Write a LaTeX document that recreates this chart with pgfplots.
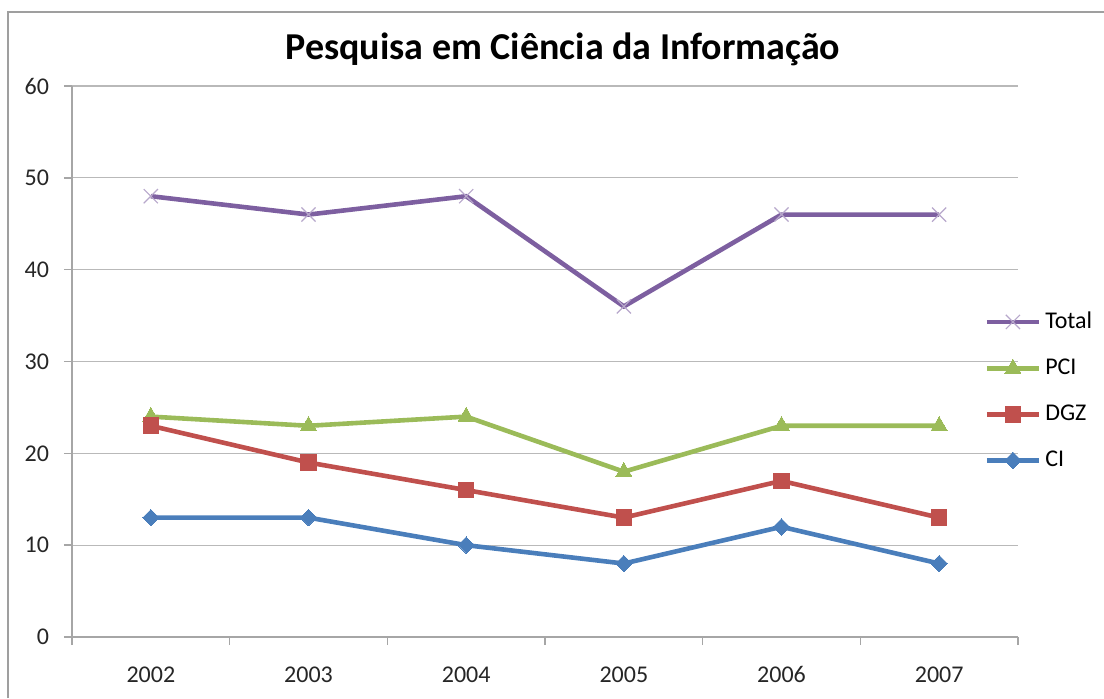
\documentclass[border=0pt]{standalone}
\usepackage{pgfplots}
\pgfplotsset{compat=1.18}
\usepackage{fontspec}
\setmainfont{Carlito}
\definecolor{cTot}{HTML}{7D5FA0}
\definecolor{cPCI}{HTML}{9BBB59}
\definecolor{cDGZ}{HTML}{C0504D}
\definecolor{cCI}{HTML}{4A7EBB}
\begin{document}
\begin{tikzpicture}[x=1pt,y=1pt]
\useasboundingbox (0,0) rectangle (552,349);
\draw[gray!75, line width=0.9pt] (4,0) -- (4,343) -- (552,343);
\node[font=\bfseries\fontsize{19}{22}\selectfont] at (281.5,324.5) {Pesquisa em Ciência da Informação};
\begin{axis}[
  at={(36pt,30.5pt)}, anchor=south west,
  scale only axis, width=473pt, height=275.5pt,
  xmin=-0.5, xmax=5.5, ymin=0, ymax=60,
  ytick={0,10,...,60},
  xtick={-0.5,0.5,...,5.5},
  xticklabels={2002,2003,2004,2005,2006,2007},
  x tick label as interval,
  axis lines*=left,
  ymajorgrids,
  grid style={gray!55, line width=0.6pt},
  axis line style={gray!70, line width=0.7pt},
  major tick style={gray!70, line width=0.7pt},
  tick align=outside, major tick length=4pt,
  /pgf/number format/assume math mode=true,
  tick label style={font=\fontsize{12}{14}\selectfont, text=black!85},
  yticklabel style={xshift=-4pt},
  xticklabel style={yshift=-6.3pt, text height=9pt, text depth=2pt},
  legend style={draw=none, fill=none, at={(0.958,0.605)}, anchor=north west,
    font=\fontsize{12}{14}\selectfont, row sep=9.7pt, cells={anchor=west}},
  legend image code/.code={\draw[mark repeat=2,mark phase=2,#1] plot coordinates {(0pt,0pt)(13pt,0pt)(26pt,0pt)};},
]
\addplot[cTot, line width=2.3pt, mark=x, mark size=5pt, mark options={line width=0.6pt, draw=cTot!55}]
  coordinates {(0,48)(1,46)(2,48)(3,36)(4,46)(5,46)};
\addlegendentry{Total}
\addplot[cPCI, line width=2.3pt, mark=triangle*, mark size=4.6pt, mark options={line width=0pt, fill=cPCI}]
  coordinates {(0,24)(1,23)(2,24)(3,18)(4,23)(5,23)};
\addlegendentry{PCI}
\addplot[cDGZ, line width=2.3pt, mark=square*, mark size=3.9pt, mark options={line width=0pt, fill=cDGZ}]
  coordinates {(0,23)(1,19)(2,16)(3,13)(4,17)(5,13)};
\addlegendentry{DGZ}
\addplot[cCI, line width=2.3pt, mark=square*, mark size=2.9pt, mark options={rotate=45, line width=0pt, fill=cCI}]
  coordinates {(0,13)(1,13)(2,10)(3,8)(4,12)(5,8)};
\addlegendentry{CI}
\end{axis}
\end{tikzpicture}
\end{document}
